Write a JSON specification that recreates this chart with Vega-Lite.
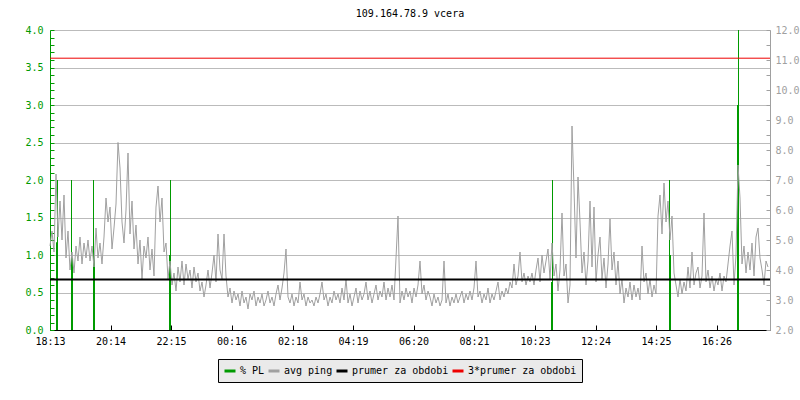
{
  "$schema": "https://vega.github.io/schema/vega-lite/v6.json",
  "width": 720,
  "height": 300,
  "autosize": {"type": "none"},
  "padding": {"left": 50, "top": 30, "right": 30, "bottom": 70},
  "background": "white",
  "title": {"text": "109.164.78.9 vcera", "font": "DejaVu Sans Mono", "fontSize": 10, "fontWeight": "normal", "color": "black", "baseline": "middle", "offset": 1},
  "config": {
    "view": {"stroke": null},
    "axis": {"labelFont": "DejaVu Sans Mono", "labelFontSize": 10, "titleFont": "DejaVu Sans Mono"},
    "legend": {"labelFont": "DejaVu Sans Mono", "labelFontSize": 10}
  },
  "datasets": {
    "pl": [
      {"t": 13, "pl": 1.17}, {"t": 15, "pl": 2.0},
      {"t": 43, "pl": 2.0}, {"t": 45, "pl": 0.96},
      {"t": 87, "pl": 2.0}, {"t": 89, "pl": 0.97},
      {"t": 239, "pl": 1.0}, {"t": 241, "pl": 2.0},
      {"t": 1003, "pl": 0.64}, {"t": 1005, "pl": 2.0},
      {"t": 1239, "pl": 2.0}, {"t": 1241, "pl": 1.0},
      {"t": 1375, "pl": 3.0}, {"t": 1377, "pl": 4.0}
    ],
    "ping": [
      {"t":0,"ping":4.8},{"t":4,"ping":5.3},{"t":8,"ping":4.6},{"t":12,"ping":7.2},{"t":16,"ping":5.1},{"t":20,"ping":6.3},{"t":24,"ping":5.0},{"t":28,"ping":6.5},{"t":32,"ping":4.4},{"t":36,"ping":5.3},
      {"t":40,"ping":4.0},{"t":44,"ping":4.6},{"t":48,"ping":3.9},{"t":52,"ping":4.8},{"t":56,"ping":4.3},{"t":60,"ping":5.1},{"t":64,"ping":4.2},{"t":68,"ping":4.9},{"t":72,"ping":4.4},{"t":76,"ping":5.0},
      {"t":80,"ping":4.3},{"t":84,"ping":4.8},{"t":88,"ping":4.1},{"t":92,"ping":5.4},{"t":96,"ping":4.4},{"t":100,"ping":4.9},{"t":104,"ping":4.2},{"t":108,"ping":5.1},{"t":112,"ping":6.4},{"t":116,"ping":5.6},
      {"t":120,"ping":6.1},{"t":124,"ping":4.7},{"t":128,"ping":5.4},{"t":132,"ping":6.2},{"t":136,"ping":8.25},{"t":140,"ping":7.4},{"t":144,"ping":5.6},{"t":148,"ping":4.9},{"t":152,"ping":6.0},{"t":156,"ping":7.9},
      {"t":160,"ping":5.2},{"t":164,"ping":6.3},{"t":168,"ping":4.7},{"t":172,"ping":5.5},{"t":176,"ping":4.2},{"t":180,"ping":5.0},{"t":184,"ping":3.7},{"t":188,"ping":4.8},{"t":192,"ping":4.4},{"t":196,"ping":5.1},
      {"t":200,"ping":4.0},{"t":204,"ping":4.7},{"t":208,"ping":3.8},{"t":212,"ping":6.1},{"t":216,"ping":6.8},{"t":220,"ping":5.6},{"t":224,"ping":6.4},{"t":228,"ping":4.6},{"t":232,"ping":4.9},{"t":236,"ping":3.7},
      {"t":240,"ping":4.3},{"t":244,"ping":3.5},{"t":248,"ping":3.9},{"t":252,"ping":3.3},{"t":256,"ping":4.1},{"t":260,"ping":3.6},{"t":264,"ping":4.3},{"t":268,"ping":3.5},{"t":272,"ping":4.2},{"t":276,"ping":3.7},
      {"t":280,"ping":4.0},{"t":284,"ping":3.4},{"t":288,"ping":4.1},{"t":292,"ping":3.6},{"t":296,"ping":3.9},{"t":300,"ping":3.3},{"t":304,"ping":3.6},{"t":308,"ping":3.1},{"t":312,"ping":3.5},{"t":316,"ping":4.0},
      {"t":320,"ping":3.4},{"t":324,"ping":3.9},{"t":328,"ping":4.5},{"t":332,"ping":3.6},{"t":336,"ping":5.2},{"t":340,"ping":4.0},{"t":344,"ping":3.7},{"t":348,"ping":5.2},{"t":352,"ping":3.8},{"t":356,"ping":3.1},
      {"t":360,"ping":3.4},{"t":364,"ping":2.9},{"t":368,"ping":3.3},{"t":372,"ping":3.0},{"t":376,"ping":3.2},{"t":380,"ping":2.8},{"t":384,"ping":3.3},{"t":388,"ping":2.9},{"t":392,"ping":3.1},{"t":396,"ping":2.7},
      {"t":400,"ping":3.2},{"t":404,"ping":3.0},{"t":408,"ping":3.3},{"t":412,"ping":2.8},{"t":416,"ping":3.1},{"t":420,"ping":2.9},{"t":424,"ping":3.2},{"t":428,"ping":2.8},{"t":432,"ping":3.0},{"t":436,"ping":3.3},
      {"t":440,"ping":2.9},{"t":444,"ping":3.1},{"t":448,"ping":2.8},{"t":452,"ping":3.2},{"t":456,"ping":3.5},{"t":460,"ping":3.0},{"t":464,"ping":3.4},{"t":468,"ping":3.9},{"t":472,"ping":4.7},{"t":476,"ping":3.1},
      {"t":480,"ping":2.9},{"t":484,"ping":3.2},{"t":488,"ping":2.8},{"t":492,"ping":3.1},{"t":496,"ping":2.9},{"t":500,"ping":3.6},{"t":504,"ping":3.0},{"t":508,"ping":3.2},{"t":512,"ping":2.8},{"t":516,"ping":3.1},
      {"t":520,"ping":2.9},{"t":524,"ping":3.0},{"t":528,"ping":2.8},{"t":532,"ping":3.1},{"t":536,"ping":2.9},{"t":540,"ping":3.2},{"t":544,"ping":3.6},{"t":548,"ping":3.0},{"t":552,"ping":3.2},{"t":556,"ping":2.8},
      {"t":560,"ping":3.1},{"t":564,"ping":2.9},{"t":568,"ping":3.3},{"t":572,"ping":3.0},{"t":576,"ping":3.2},{"t":580,"ping":2.9},{"t":584,"ping":3.4},{"t":588,"ping":3.0},{"t":592,"ping":3.7},{"t":596,"ping":2.9},
      {"t":600,"ping":3.2},{"t":604,"ping":2.8},{"t":608,"ping":3.1},{"t":612,"ping":3.4},{"t":616,"ping":2.9},{"t":620,"ping":3.3},{"t":624,"ping":3.0},{"t":628,"ping":3.2},{"t":632,"ping":3.6},{"t":636,"ping":3.0},
      {"t":640,"ping":3.3},{"t":644,"ping":2.9},{"t":648,"ping":3.2},{"t":652,"ping":3.5},{"t":656,"ping":3.0},{"t":660,"ping":3.3},{"t":664,"ping":3.1},{"t":668,"ping":3.6},{"t":672,"ping":3.0},{"t":676,"ping":3.4},
      {"t":680,"ping":3.1},{"t":684,"ping":3.5},{"t":688,"ping":3.0},{"t":692,"ping":4.4},{"t":696,"ping":5.8},{"t":700,"ping":2.9},{"t":704,"ping":3.3},{"t":708,"ping":3.0},{"t":712,"ping":3.4},{"t":716,"ping":3.1},
      {"t":720,"ping":3.3},{"t":724,"ping":2.9},{"t":728,"ping":3.4},{"t":732,"ping":3.1},{"t":736,"ping":3.5},{"t":740,"ping":4.3},{"t":744,"ping":3.2},{"t":748,"ping":3.5},{"t":752,"ping":3.0},{"t":756,"ping":3.3},
      {"t":760,"ping":3.1},{"t":764,"ping":2.8},{"t":768,"ping":3.2},{"t":772,"ping":2.9},{"t":776,"ping":3.1},{"t":780,"ping":2.8},{"t":784,"ping":3.0},{"t":788,"ping":4.3},{"t":792,"ping":2.9},{"t":796,"ping":3.2},
      {"t":800,"ping":2.8},{"t":804,"ping":3.1},{"t":808,"ping":2.9},{"t":812,"ping":3.2},{"t":816,"ping":2.9},{"t":820,"ping":3.1},{"t":824,"ping":3.3},{"t":828,"ping":2.9},{"t":832,"ping":3.2},{"t":836,"ping":3.0},
      {"t":840,"ping":3.3},{"t":844,"ping":3.0},{"t":848,"ping":3.4},{"t":852,"ping":4.3},{"t":856,"ping":3.1},{"t":860,"ping":3.3},{"t":864,"ping":2.9},{"t":868,"ping":3.2},{"t":872,"ping":3.0},{"t":876,"ping":3.4},
      {"t":880,"ping":2.9},{"t":884,"ping":3.2},{"t":888,"ping":3.0},{"t":892,"ping":3.3},{"t":896,"ping":3.6},{"t":900,"ping":3.0},{"t":904,"ping":3.3},{"t":908,"ping":3.1},{"t":912,"ping":3.4},{"t":916,"ping":3.2},
      {"t":920,"ping":3.6},{"t":924,"ping":3.4},{"t":928,"ping":4.2},{"t":932,"ping":3.5},{"t":936,"ping":3.8},{"t":940,"ping":4.6},{"t":944,"ping":3.6},{"t":948,"ping":3.9},{"t":952,"ping":3.5},{"t":956,"ping":3.8},
      {"t":960,"ping":3.6},{"t":964,"ping":3.9},{"t":968,"ping":3.5},{"t":972,"ping":4.0},{"t":976,"ping":4.4},{"t":980,"ping":3.6},{"t":984,"ping":4.5},{"t":988,"ping":3.9},{"t":992,"ping":4.3},{"t":996,"ping":4.7},
      {"t":1000,"ping":3.7},{"t":1004,"ping":4.9},{"t":1008,"ping":3.8},{"t":1012,"ping":4.2},{"t":1016,"ping":3.3},{"t":1020,"ping":4.0},{"t":1024,"ping":5.9},{"t":1028,"ping":3.8},{"t":1032,"ping":4.2},{"t":1036,"ping":2.9},
      {"t":1040,"ping":3.5},{"t":1044,"ping":8.8},{"t":1048,"ping":6.7},{"t":1052,"ping":4.4},{"t":1056,"ping":7.1},{"t":1060,"ping":5.6},{"t":1064,"ping":3.9},{"t":1068,"ping":4.6},{"t":1072,"ping":3.5},{"t":1076,"ping":4.3},
      {"t":1080,"ping":6.3},{"t":1084,"ping":4.1},{"t":1088,"ping":6.1},{"t":1092,"ping":3.6},{"t":1096,"ping":4.5},{"t":1100,"ping":5.1},{"t":1104,"ping":3.7},{"t":1108,"ping":4.4},{"t":1112,"ping":3.4},{"t":1116,"ping":4.2},
      {"t":1120,"ping":5.7},{"t":1124,"ping":4.0},{"t":1128,"ping":4.6},{"t":1132,"ping":3.5},{"t":1136,"ping":4.3},{"t":1140,"ping":3.2},{"t":1144,"ping":3.7},{"t":1148,"ping":2.9},{"t":1152,"ping":3.4},{"t":1156,"ping":3.1},
      {"t":1160,"ping":3.6},{"t":1164,"ping":3.0},{"t":1168,"ping":3.5},{"t":1172,"ping":3.1},{"t":1176,"ping":3.4},{"t":1180,"ping":3.0},{"t":1184,"ping":4.8},{"t":1188,"ping":3.6},{"t":1192,"ping":3.9},{"t":1196,"ping":3.2},
      {"t":1200,"ping":3.7},{"t":1204,"ping":3.1},{"t":1208,"ping":3.5},{"t":1212,"ping":3.2},{"t":1216,"ping":5.8},{"t":1220,"ping":6.5},{"t":1224,"ping":5.2},{"t":1228,"ping":6.9},{"t":1232,"ping":5.6},{"t":1236,"ping":6.3},
      {"t":1240,"ping":5.0},{"t":1244,"ping":5.8},{"t":1248,"ping":3.9},{"t":1252,"ping":3.5},{"t":1256,"ping":3.1},{"t":1260,"ping":3.7},{"t":1264,"ping":3.2},{"t":1268,"ping":3.6},{"t":1272,"ping":3.3},{"t":1276,"ping":4.1},
      {"t":1280,"ping":3.4},{"t":1284,"ping":4.6},{"t":1288,"ping":3.5},{"t":1292,"ping":3.9},{"t":1296,"ping":4.1},{"t":1300,"ping":3.4},{"t":1304,"ping":3.8},{"t":1308,"ping":5.9},{"t":1312,"ping":3.6},{"t":1316,"ping":4.0},
      {"t":1320,"ping":3.4},{"t":1324,"ping":3.8},{"t":1328,"ping":3.3},{"t":1332,"ping":3.7},{"t":1336,"ping":3.5},{"t":1340,"ping":3.9},{"t":1344,"ping":3.3},{"t":1348,"ping":3.8},{"t":1352,"ping":3.6},{"t":1356,"ping":4.2},
      {"t":1360,"ping":4.8},{"t":1364,"ping":5.3},{"t":1368,"ping":3.5},{"t":1372,"ping":4.5},{"t":1376,"ping":7.5},{"t":1380,"ping":6.4},{"t":1384,"ping":4.2},{"t":1388,"ping":4.8},{"t":1392,"ping":3.9},{"t":1396,"ping":4.6},
      {"t":1400,"ping":4.0},{"t":1404,"ping":4.9},{"t":1408,"ping":3.8},{"t":1412,"ping":5.1},{"t":1416,"ping":5.4},{"t":1420,"ping":4.4},{"t":1424,"ping":4.0},{"t":1428,"ping":3.5},{"t":1432,"ping":4.3},{"t":1436,"ping":4.1}
    ],
    "avg": [{"series": "prumer za obdobi", "v": 3.68}],
    "avg3": [{"series": "3*prumer za obdobi", "v": 11.06}]
  },
  "layer": [
    {
      "data": {"name": "pl"},
      "mark": {"type": "rule", "strokeWidth": 1},
      "encoding": {
        "x": {"field": "t", "type": "quantitative", "scale": {"domain": [0, 1440], "nice": false, "zero": false},
          "axis": {"title": null, "values": [0, 121, 242, 363, 485, 606, 727, 848, 970, 1091, 1212, 1333],
            "labelExpr": "timeFormat(datetime(2020, 0, 1, 18, 13 + datum.value, 0), '%H:%M')",
            "grid": false, "domainColor": "black", "tickColor": "black", "tickSize": -5, "labelPadding": 11,
            "labelColor": "black", "labelFlush": false, "labelOverlap": false}},
        "y": {"field": "pl", "type": "quantitative", "scale": {"domain": [0, 4], "nice": false},
          "axis": {"title": null, "orient": "left",
            "values": [0,0.1,0.2,0.3,0.4,0.5,0.6,0.7,0.8,0.9,1,1.1,1.2,1.3,1.4,1.5,1.6,1.7,1.8,1.9,2,2.1,2.2,2.3,2.4,2.5,2.6,2.7,2.8,2.9,3,3.1,3.2,3.3,3.4,3.5,3.6,3.7,3.8,3.9,4],
            "labelExpr": "abs(datum.value * 2 - round(datum.value * 2)) < 0.001 ? format(datum.value, '.1f') : ''",
            "grid": true, "gridColor": "#bbbbbb",
            "gridOpacity": {"condition": {"test": "abs(datum.value * 2 - round(datum.value * 2)) < 0.001", "value": 1}, "value": 0},
            "domainColor": "#009a00", "tickColor": "#009a00", "labelColor": "#009a00",
            "tickSize": -4, "labelPadding": 11, "labelOverlap": false, "labelBound": false}},
        "y2": {"datum": 0},
        "color": {"datum": "% PL", "type": "nominal", "title": null,
          "scale": {"domain": ["% PL", "avg ping", "prumer za obdobi", "3*prumer za obdobi"], "range": ["#009a00", "#a0a0a0", "black", "#ee0000"]},
          "legend": {"title": null, "orient": "none", "legendX": 168, "legendY": 329, "direction": "horizontal",
            "fillColor": "#eaeaea", "strokeColor": "black", "padding": 5, "columnPadding": -3,
            "symbolType": "stroke", "symbolStrokeWidth": 3, "symbolSize": 121, "labelOffset": 3, "labelLimit": 300, "labelColor": "black"}}
      }
    },
    {
      "layer": [
        {
          "data": {"name": "ping"},
          "mark": {"type": "line", "strokeWidth": 1, "interpolate": "linear"},
          "encoding": {
            "x": {"field": "t", "type": "quantitative", "scale": {"domain": [0, 1440], "nice": false, "zero": false}, "axis": {"title": null}},
            "y": {"field": "ping", "type": "quantitative", "scale": {"domain": [2, 12], "nice": false, "zero": false},
              "axis": {"title": null, "orient": "right",
                "values": [2,2.5,3,3.5,4,4.5,5,5.5,6,6.5,7,7.5,8,8.5,9,9.5,10,10.5,11,11.5,12],
                "labelExpr": "abs(datum.value - round(datum.value)) < 0.001 ? format(datum.value, '.1f') : ''",
                "grid": false, "domainColor": "#a0a0a0", "tickColor": "#a0a0a0", "labelColor": "#a0a0a0",
                "tickSize": -4, "labelPadding": 9, "labelOverlap": false, "labelBound": false}},
            "color": {"datum": "avg ping", "type": "nominal", "title": null}
          }
        },
        {
          "data": {"name": "avg"},
          "mark": {"type": "rule", "strokeWidth": 2},
          "encoding": {
            "y": {"field": "v", "type": "quantitative",
              "axis": {"title": null, "orient": "right",
                "values": [2,2.5,3,3.5,4,4.5,5,5.5,6,6.5,7,7.5,8,8.5,9,9.5,10,10.5,11,11.5,12],
                "labelExpr": "abs(datum.value - round(datum.value)) < 0.001 ? format(datum.value, '.1f') : ''",
                "grid": false, "domainColor": "#a0a0a0", "tickColor": "#a0a0a0", "labelColor": "#a0a0a0",
                "tickSize": -4, "labelPadding": 9, "labelOverlap": false, "labelBound": false}},
            "color": {"field": "series", "type": "nominal", "title": null}
          }
        },
        {
          "data": {"name": "avg3"},
          "mark": {"type": "rule", "strokeWidth": 1},
          "encoding": {
            "y": {"field": "v", "type": "quantitative",
              "axis": {"title": null, "orient": "right",
                "values": [2,2.5,3,3.5,4,4.5,5,5.5,6,6.5,7,7.5,8,8.5,9,9.5,10,10.5,11,11.5,12],
                "labelExpr": "abs(datum.value - round(datum.value)) < 0.001 ? format(datum.value, '.1f') : ''",
                "grid": false, "domainColor": "#a0a0a0", "tickColor": "#a0a0a0", "labelColor": "#a0a0a0",
                "tickSize": -4, "labelPadding": 9, "labelOverlap": false, "labelBound": false}},
            "color": {"field": "series", "type": "nominal", "title": null}
          }
        }
      ]
    }
  ],
  "resolve": {"scale": {"y": "independent"}, "axis": {"y": "independent"}}
}
